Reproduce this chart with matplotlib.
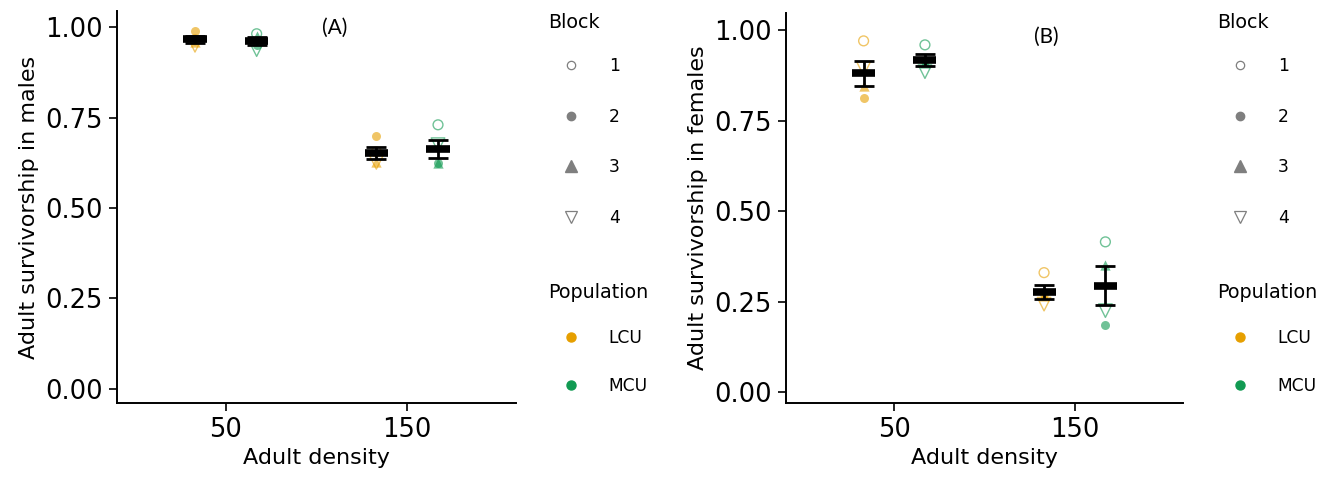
import matplotlib
matplotlib.use("Agg")
import matplotlib.pyplot as plt
import numpy as np
from matplotlib.lines import Line2D

plt.rcParams["font.family"] = ["DejaVu Sans"]

# survivorship per block (1..4) for each density, one list per population
densities = ["50", "150"]
populations = ["LCU", "MCU"]
blocks = ["1", "2", "3", "4"]

males_lcu = [[0.965, 0.990, 0.960, 0.950],
             [0.655, 0.698, 0.626, 0.626]]
males_mcu = [[0.982, 0.952, 0.975, 0.938],
             [0.730, 0.625, 0.625, 0.675]]
females_lcu = [[0.970, 0.812, 0.845, 0.893],
               [0.330, 0.270, 0.265, 0.243]]
females_mcu = [[0.959, 0.915, 0.910, 0.885],
               [0.415, 0.185, 0.352, 0.225]]

pop_colors = {"LCU": "#E69F00", "MCU": "#119A52"}
block_markers = {"1": ("o", False, 50), "2": ("o", True, 42),
                 "3": ("^", True, 55), "4": ("v", False, 95)}
dodge = {"LCU": -0.17, "MCU": 0.17}


def panel(ax, data, ylabel):
    x0 = np.arange(1, len(densities) + 1)
    for pop in populations:
        vals = np.array(data[pop])
        xs = x0 + dodge[pop]
        col = pop_colors[pop]
        for j, b in enumerate(blocks):
            mk, filled, s = block_markers[b]
            if filled:
                ax.scatter(xs, vals[:, j], marker=mk, s=s, color=col,
                           alpha=0.6, linewidths=0, zorder=2)
            else:
                ax.scatter(xs, vals[:, j], marker=mk, s=s, facecolors="none",
                           edgecolors=col, alpha=0.6, linewidths=1.0, zorder=2)
        # mean +/- standard error over blocks
        mean = vals.mean(axis=1)
        se = vals.std(axis=1, ddof=1) / np.sqrt(vals.shape[1])
        ax.errorbar(xs, mean, yerr=se, fmt="none", ecolor="black",
                    elinewidth=2.0, capsize=7, capthick=2.0, zorder=3)
        ax.hlines(mean, xs - 0.064, xs + 0.064, colors="black",
                  linewidth=5.5, zorder=4)

    ax.set_xlim(0.4, 2.6)
    ax.set_xticks(x0)
    ax.set_xticklabels(densities)
    ax.set_yticks([0, 0.25, 0.5, 0.75, 1.0])
    ax.set_yticklabels(["0.00", "0.25", "0.50", "0.75", "1.00"])
    ax.tick_params(labelsize=18.5, width=1.2, length=6, pad=4, colors="black")
    for side in ("top", "right"):
        ax.spines[side].set_visible(False)
    for side in ("left", "bottom"):
        ax.spines[side].set_linewidth(1.4)
    ax.set_xlabel("Adult density", fontsize=16, labelpad=4)
    ax.set_ylabel(ylabel, fontsize=16, labelpad=5)


def legends(ax, x_fig):
    fig = ax.figure
    gray = "#7F7F7F"
    block_handles = [
        Line2D([], [], ls="none", marker="o", ms=6, mfc="none", mec=gray, mew=0.9),
        Line2D([], [], ls="none", marker="o", ms=6, mfc=gray, mec=gray),
        Line2D([], [], ls="none", marker="^", ms=8, mfc=gray, mec=gray),
        Line2D([], [], ls="none", marker="v", ms=8, mfc="none", mec=gray, mew=0.9),
    ]
    pop_handles = [Line2D([], [], ls="none", marker="o", ms=6.5,
                          color=pop_colors[p]) for p in populations]
    kw = dict(frameon=False, fontsize=12.3, handlelength=2.7, handletextpad=0.85,
              borderpad=0, borderaxespad=0, bbox_transform=fig.transFigure,
              loc="center left")
    leg1 = ax.legend(block_handles, blocks, labelspacing=1.9,
                     bbox_to_anchor=(x_fig, 1 - 142 / 496), **kw)
    ax.add_artist(leg1)
    ax.legend(pop_handles, populations, labelspacing=1.78,
              bbox_to_anchor=(x_fig, 1 - 362 / 496), **kw)
    fig.text(x_fig, 1 - 22 / 496, "Block", fontsize=13.8, va="center")
    fig.text(x_fig, 1 - 292 / 496, "Population", fontsize=13.8, va="center")


fig = plt.figure(figsize=(13.34, 4.96), dpi=100)
axA = fig.add_axes([117 / 1334, 1 - 403 / 496, 399 / 1334, 392 / 496])
axB = fig.add_axes([786 / 1334, 1 - 403 / 496, 397 / 1334, 390 / 496])

panel(axA, {"LCU": males_lcu, "MCU": males_mcu}, "Adult survivorship in males")
axA.set_ylim(-0.04, 1.045)
panel(axB, {"LCU": females_lcu, "MCU": females_mcu}, "Adult survivorship in females")
axB.set_ylim(-0.03, 1.047)

legends(axA, 548 / 1334)
legends(axB, 1217 / 1334)

fig.text(335 / 1334, 1 - 28 / 496, "(A)", fontsize=15, family=["Lato", "DejaVu Sans"],
         ha="center", va="center")
fig.text(1046 / 1334, 1 - 37 / 496, "(B)", fontsize=15, family=["Lato", "DejaVu Sans"],
         ha="center", va="center")

fig.savefig("out.png", dpi=100)
